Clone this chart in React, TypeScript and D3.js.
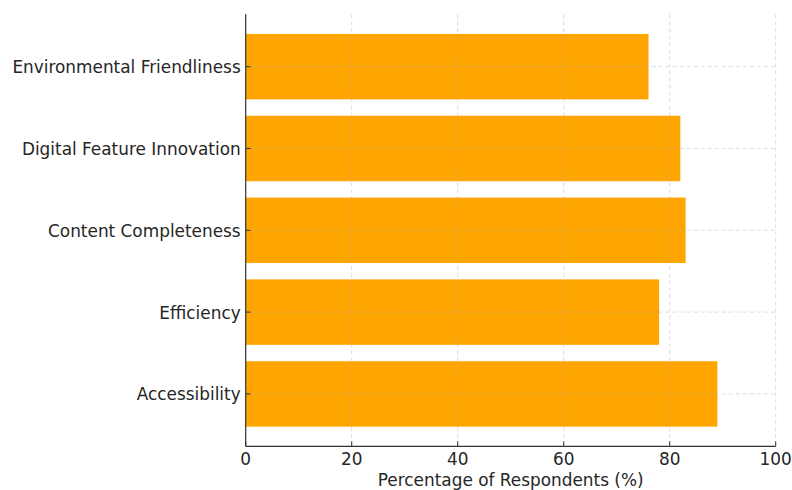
import React from "react";
import * as d3 from "d3";

const categories = [
  "Accessibility",
  "Efficiency",
  "Content Completeness",
  "Digital Feature Innovation",
  "Environmental Friendliness",
];
const values = [89, 78, 83, 82, 76];
const xTicks = [0, 20, 40, 60, 80, 100];
const xLabel = "Percentage of Respondents (%)";

const W = 792;
const H = 490;
const left = 245.7;
const right = 775.7;
const top = 14.3;
const bottom = 446.3;
const FONT = "'DejaVu Sans', sans-serif";
const FS = 16.9;
const TEXT = "#262626";

export default function App() {
  const x = d3.scaleLinear().domain([0, 100]).range([left, right]);
  // matplotlib-like: index positions, ylim [-0.64, 4.64]
  const y = d3.scaleLinear().domain([-0.64, 4.64]).range([bottom, top]);
  const barH = Math.abs(y(0.4) - y(-0.4));

  return (
    <div style={{ position: "absolute", left: 0, top: 0 }}>
      <svg width={W} height={H} style={{ display: "block", background: "#fff" }}>
        {categories.map((c, i) => (
          <rect
            key={c}
            x={x(0)}
            y={y(i + 0.4)}
            width={x(values[i]) - x(0)}
            height={barH}
            fill="#FFA500"
          />
        ))}
        {/* grid */}
        {xTicks.map((t) => (
          <line
            key={"gx" + t}
            x1={x(t)}
            x2={x(t)}
            y1={top}
            y2={bottom}
            stroke="#b0b0b0"
            strokeOpacity={0.55}
            strokeDasharray="4,3"
            strokeWidth={0.8}
          />
        ))}
        {categories.map((c, i) => (
          <line
            key={"gy" + c}
            x1={left}
            x2={right}
            y1={y(i)}
            y2={y(i)}
            stroke="#b0b0b0"
            strokeOpacity={0.55}
            strokeDasharray="4,3"
            strokeWidth={0.8}
          />
        ))}
        {/* spines */}
        <line x1={left} x2={left} y1={top} y2={bottom} stroke="#333" strokeWidth={1.2} />
        <line x1={left} x2={right} y1={bottom} y2={bottom} stroke="#333" strokeWidth={1.2} />
        {/* x ticks */}
        {xTicks.map((t) => (
          <g key={"xt" + t}>
            <line x1={x(t)} x2={x(t)} y1={bottom} y2={bottom - 5} stroke="#333" strokeWidth={1} />
            <text
              x={x(t)}
              y={464.5}
              textAnchor="middle"
              fontFamily={FONT}
              fontSize={FS}
              fill={TEXT}
            >
              {t}
            </text>
          </g>
        ))}
        {/* y ticks */}
        {categories.map((c, i) => (
          <g key={"yt" + c}>
            <line x1={left} x2={left + 5} y1={y(i)} y2={y(i)} stroke="#333" strokeWidth={1} />
            <text
              x={left - 5}
              y={y(i)}
              dy="0.38em"
              textAnchor="end"
              fontFamily={FONT}
              fontSize={FS}
              fill={TEXT}
            >
              {c}
            </text>
          </g>
        ))}
        <text
          x={(left + right) / 2}
          y={486}
          textAnchor="middle"
          fontFamily={FONT}
          fontSize={FS}
          fill={TEXT}
        >
          {xLabel}
        </text>
      </svg>
    </div>
  );
}
